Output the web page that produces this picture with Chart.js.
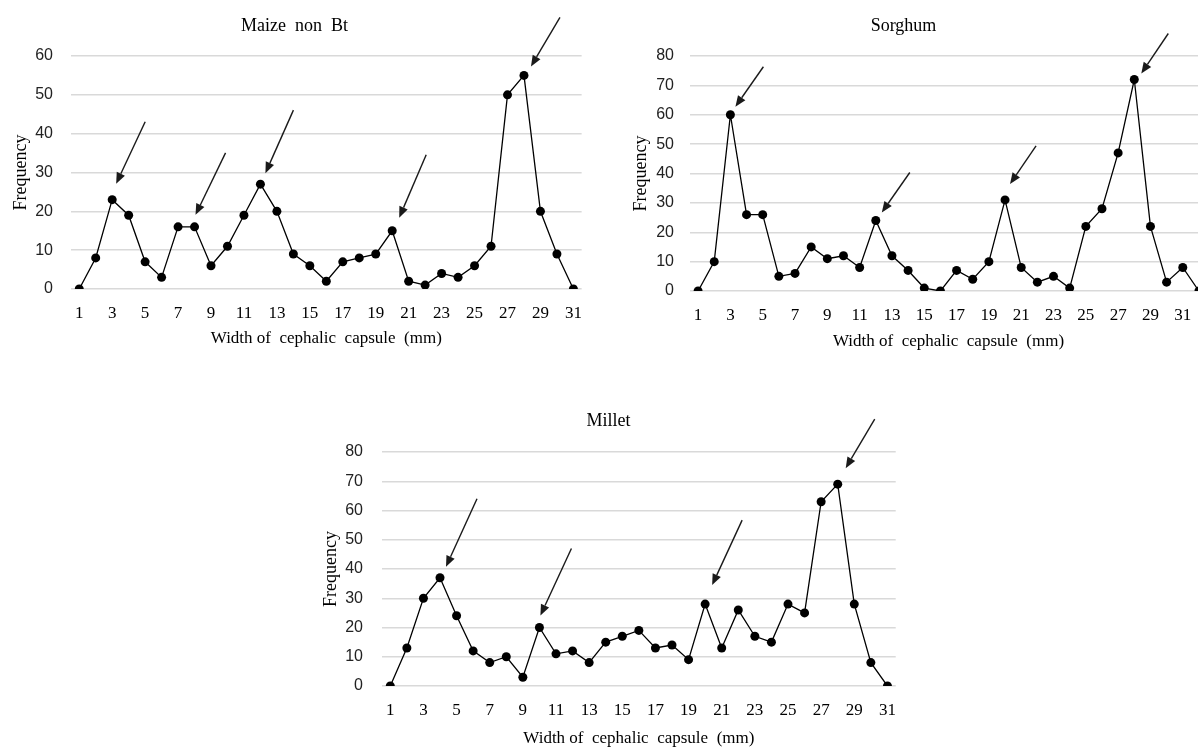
<!DOCTYPE html>
<html>
<head>
<meta charset="utf-8">
<title>Width of cephalic capsule</title>
<script src="https://cdn.jsdelivr.net/npm/chart.js@4.4.1/dist/chart.umd.min.js"></script>
<style>
  html, body { margin: 0; padding: 0; background: #fff; overflow: hidden; }
  body { width: 1198px; height: 749px; position: relative; }
  canvas { position: absolute; }
</style>
</head>
<body>
<canvas id="maize" width="596" height="349" style="left:0px; top:0px;"></canvas>
<canvas id="sorghum" width="634" height="352" style="left:600px; top:0px;"></canvas>
<canvas id="millet" width="600" height="354" style="left:310px; top:395px;"></canvas>
<script>
// categories (width class of the cephalic capsule)
var widths31 = ['1','2','3','4','5','6','7','8','9','10','11','12','13','14','15','16',
                '17','18','19','20','21','22','23','24','25','26','27','28','29','30','31'];
var widths32 = ['1','2','3','4','5','6','7','8','9','10','11','12','13','14','15','16',
                '17','18','19','20','21','22','23','24','25','26','27','28','29','30','31','32'];

// frequencies
var maizeFreq   = [0, 8, 23, 19, 7, 3, 16, 16, 6, 11, 19, 27, 20, 9, 6, 2,
                   7, 8, 9, 15, 2, 1, 4, 3, 6, 11, 50, 55, 20, 9, 0];
var sorghumFreq = [0, 10, 60, 26, 26, 5, 6, 15, 11, 12, 8, 24, 12, 7, 1, 0,
                   7, 4, 10, 31, 8, 3, 5, 1, 22, 28, 47, 72, 22, 3, 8, 0];
var milletFreq  = [0, 13, 30, 37, 24, 12, 8, 10, 3, 20, 11, 12, 8, 15, 17, 19,
                   13, 14, 9, 28, 13, 26, 17, 15, 28, 25, 63, 69, 28, 8, 0];

// instars marked with arrows
var maizePeaks   = ['3', '8', '12', '20', '28'];
var sorghumPeaks = ['3', '12', '20', '28'];
var milletPeaks  = ['4', '10', '20', '28'];

var yTicksMaize = [0, 10, 20, 30, 40, 50, 60];
var yTicksOther = [0, 10, 20, 30, 40, 50, 60, 70, 80];

var serif = '"Liberation Serif", "Times New Roman", serif';
var sans = '"Liberation Sans", Arial, sans-serif';

// draws the arrows pointing at the peaks
var peakArrows = {
    id: 'peakArrows',
    afterDatasetsDraw: function(chart, args, opts) {
        var ctx = chart.ctx;
        var meta = chart.getDatasetMeta(0);
        var labels = chart.data.labels;
        ctx.save();
        ctx.strokeStyle = '#1a1a1a';
        ctx.fillStyle = '#1a1a1a';
        ctx.lineWidth = 1.4;
        opts.peaks.forEach(function(p, i) {
            var s = opts.shapes[i];
            var pt = meta.data[labels.indexOf(p)];
            var hx = pt.x + s[0], hy = pt.y + s[1];
            var tx = hx + s[2], ty = hy + s[3];
            var ang = Math.atan2(hy - ty, hx - tx);
            var hl = 11, hw = 4.5;
            var bx = hx - hl * Math.cos(ang), by = hy - hl * Math.sin(ang);
            ctx.beginPath();
            ctx.moveTo(tx, ty);
            ctx.lineTo(bx, by);
            ctx.stroke();
            ctx.beginPath();
            ctx.moveTo(hx, hy);
            ctx.lineTo(bx - hw * Math.sin(ang), by + hw * Math.cos(ang));
            ctx.lineTo(bx + hw * Math.sin(ang), by - hw * Math.cos(ang));
            ctx.closePath();
            ctx.fill();
        });
        ctx.restore();
    }
};

function makeChart(id, title, labels, values, yMax, yTicks, box) {
    return new Chart(document.getElementById(id).getContext('2d'), {
        type: 'line',
        data: {
            labels: labels,
            datasets: [{
                data: values,
                borderColor: '#000',
                borderWidth: 1.3,
                pointRadius: 4.5,
                pointBackgroundColor: '#000',
                pointBorderColor: '#000',
                pointBorderWidth: 0,
                tension: 0,
                fill: false
            }]
        },
        options: {
            responsive: false,
            animation: false,
            layout: { padding: { left: 0, right: box.padRight, top: 0, bottom: 0 } },
            plugins: {
                legend: { display: false },
                tooltip: { enabled: false },
                title: {
                    display: true,
                    text: title,
                    color: '#000',
                    font: { family: serif, size: 18, weight: 'normal' },
                    padding: { top: 15, bottom: box.titleBottom }
                },
                peakArrows: box.arrows
            },
            scales: {
                x: {
                    offset: true,
                    grid: { display: false, drawTicks: false },
                    border: { display: false },
                    ticks: {
                        autoSkip: false,
                        maxRotation: 0,
                        padding: 14,
                        color: '#000',
                        font: { family: serif, size: 17 },
                        callback: function(v, i) { return i % 2 === 0 ? this.getLabelForValue(v) : ''; }
                    },
                    title: {
                        display: true,
                        text: 'Width of  cephalic  capsule  (mm)',
                        color: '#000',
                        font: { family: serif, size: 17 },
                        padding: 0
                    },
                    afterFit: function(scale) { scale.height = box.xHeight; }
                },
                y: {
                    min: 0,
                    max: yMax,
                    grid: { color: '#d9d9d9', lineWidth: 1.5, drawTicks: false },
                    border: { display: false },
                    afterBuildTicks: function(scale) {
                        scale.ticks = yTicks.map(function(v) { return { value: v }; });
                    },
                    ticks: {
                        padding: box.yPad,
                        color: '#222',
                        font: { family: sans, size: 16 }
                    },
                    title: {
                        display: true,
                        text: 'Frequency',
                        color: '#000',
                        font: { family: serif, size: 18 },
                        padding: { top: box.yTitlePad, bottom: 0 }
                    },
                    afterFit: function(scale) { scale.width = box.yWidth; }
                }
            }
        },
        plugins: [peakArrows]
    });
}

makeChart('maize', 'Maize  non  Bt', widths31, maizeFreq, 60, yTicksMaize, {
    padRight: 7, titleBottom: 19.4, xHeight: 60, yWidth: 71, yPad: 18, yTitlePad: 10,
    arrows: { peaks: maizePeaks, shapes: [
        [4, -16, 29, -62], [1, -12, 30, -62], [5, -11, 28, -63], [7, -13, 27, -63], [7, -9, 29, -49]
    ] }
});

makeChart('sorghum', 'Sorghum', widths32, sorghumFreq, 80, yTicksOther, {
    padRight: 27, titleBottom: 19.4, xHeight: 61, yWidth: 90, yPad: 16, yTitlePad: 30,
    arrows: { peaks: sorghumPeaks, shapes: [
        [5, -8, 28, -40], [6, -8, 28, -40], [5, -16, 26, -38], [7, -6, 27, -40]
    ] }
});

makeChart('millet', 'Millet', widths31, milletFreq, 80, yTicksOther, {
    padRight: 3, titleBottom: 20.4, xHeight: 63, yWidth: 72, yPad: 19, yTitlePad: 10,
    arrows: { peaks: milletPeaks, shapes: [
        [6, -11, 31, -68], [1, -12, 31, -67], [7, -19, 30, -65], [8, -16, 29, -49]
    ] }
});
</script>
</body>
</html>
